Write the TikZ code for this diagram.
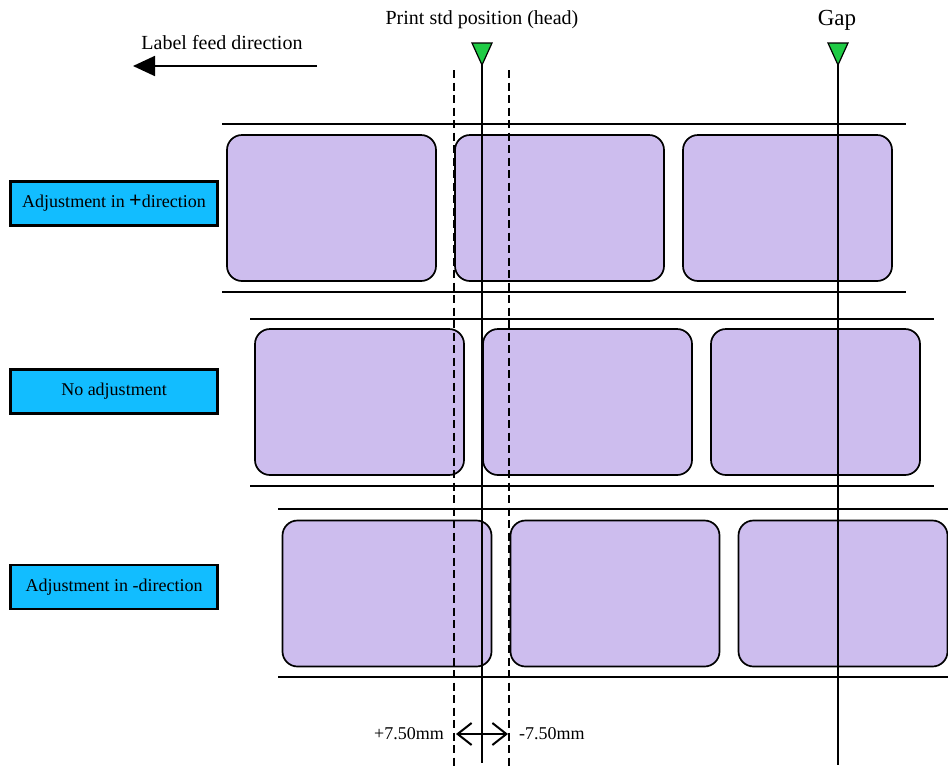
\documentclass[tikz,border=0pt]{standalone}
\usepackage{fontspec}
\setmainfont{Liberation Serif}
\usetikzlibrary{arrows.meta}
\definecolor{lav}{HTML}{CDBDEE}
\definecolor{cyanbox}{HTML}{12BDFF}
\definecolor{headgreen}{HTML}{1FCB45}
\tikzset{
  lbl/.style={draw=black, line width=1.7pt, fill=lav, rounded corners=15pt,
    minimum width=209pt, minimum height=146pt, inner sep=0pt},
  tag/.style={draw=black, line width=2.2pt, fill=cyanbox, minimum width=207pt,
    minimum height=44pt, inner sep=0pt, font=\fontsize{18}{20}\selectfont},
  strip/.style={line width=1.8pt},
  vline/.style={line width=1.4pt},
  dline/.style={line width=1.2pt, dashed, dash pattern=on 8pt off 4.5pt},
  trifill/.style={draw=black, line width=1.2pt, fill=headgreen},
  big/.style={font=\fontsize{20}{24}\selectfont, inner sep=0pt},
  small/.style={font=\fontsize{18}{21}\selectfont, inner sep=0pt}
}
\begin{document}
\begin{tikzpicture}[x=1pt,y=-1pt]
\useasboundingbox (0,0) rectangle (948,769);
% strips
\coordinate (s1a) at (222,124); \coordinate (s1b) at (906,124);
\coordinate (s1c) at (222,292); \coordinate (s1d) at (906,292);
\coordinate (s2a) at (250,319); \coordinate (s2b) at (934,319);
\coordinate (s2c) at (250,486); \coordinate (s2d) at (934,486);
\coordinate (s3a) at (278,509); \coordinate (s3b) at (948,509);
\coordinate (s3c) at (278,677); \coordinate (s3d) at (948,677);
\draw[strip] (s1a) -- (s1b); \draw[strip] (s1c) -- (s1d);
\draw[strip] (s2a) -- (s2b); \draw[strip] (s2c) -- (s2d);
\draw[strip] (s3a) -- (s3b); \draw[strip] (s3c) -- (s3d);
% labels
\node[lbl] (l11) at (331.5,208) {};
\node[lbl] (l12) at (559.5,208) {};
\node[lbl] (l13) at (787.5,208) {};
\node[lbl] (l21) at (359.5,402) {};
\node[lbl] (l22) at (587.5,402) {};
\node[lbl] (l23) at (815.5,402) {};
\node[lbl] (l31) at (387,593.5) {};
\node[lbl] (l32) at (615,593.5) {};
\node[lbl] (l33) at (843,593.5) {};
% tags
\node[tag] (t1) at (114,203.5) {Adjustment in {\bfseries\fontsize{22}{22}\selectfont +}direction};
\node[tag] (t2) at (114,391.5) {No adjustment};
\node[tag] (t3) at (114,587) {Adjustment in -direction};
% vertical lines
\coordinate (headtip) at (482,65);
\coordinate (headend) at (482,763);
\coordinate (gaptip) at (838,65);
\coordinate (gapend) at (838,765);
\coordinate (dl1) at (454,70); \coordinate (dl2) at (454,769);
\coordinate (dr1) at (509,70); \coordinate (dr2) at (509,769);
\draw[dline] (dl1) -- (dl2);
\draw[dline] (dr1) -- (dr2);
\draw[vline] (headtip) -- (headend);
\draw[vline] (gaptip) -- (gapend);
\draw[trifill] (headtip) -- ++(-10,-22) -- ++(20,0) -- cycle;
\draw[trifill] (gaptip) -- ++(-10,-22) -- ++(20,0) -- cycle;
% top texts
\node[big] (headlbl) at (482,20) {Print std position (head)};
\node[font=\fontsize{23}{26}\selectfont, inner sep=0pt] (gaplbl) at (837,20) {Gap};
\node[big] (feedlbl) at (222,43) {Label feed direction};
\coordinate (fa) at (317,66); \coordinate (fb) at (133,66);
\draw[line width=1.8pt, -{Triangle[length=22pt,width=20pt]}] (fa) -- (fb);
% bottom arrow
\coordinate (ba) at (456,734); \coordinate (bb) at (508,734);
\draw[line width=2pt, {Straight Barb[length=14pt,width=22pt]}-{Straight Barb[length=14pt,width=22pt]}] (ba) -- (bb);
\node[small, anchor=east] (plus) at (444,734) {+7.50mm};
\node[small, anchor=west] (minus) at (519,734) {-7.50mm};
\end{tikzpicture}
\end{document}
